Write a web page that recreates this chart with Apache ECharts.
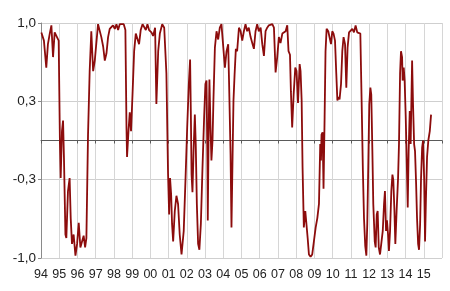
<!DOCTYPE html>
<html>
<head>
<meta charset="utf-8">
<script src="https://cdn.jsdelivr.net/npm/echarts@6/dist/echarts.min.js"></script>
<style>
html,body{margin:0;padding:0;background:#fff;}
#chart{width:450px;height:291px;}
</style>
</head>
<body>
<div id="chart"></div>
<script>
// Time in fractional years
var years = [
1994.02,1994.16,1994.29,1994.38,1994.48,1994.57,1994.66,1994.75,1994.84,1994.97,
1995.04,1995.08,1995.15,1995.21,1995.26,1995.34,1995.39,1995.48,1995.57,1995.63,
1995.70,1995.79,1995.89,1995.98,1996.07,1996.16,1996.25,1996.34,1996.42,1996.49,
1996.58,1996.67,1996.76,1996.86,1996.95,1997.13,1997.31,1997.41,1997.50,1997.59,
1997.68,1997.77,1997.86,1997.95,1998.05,1998.14,1998.23,1998.32,1998.41,1998.54,
1998.63,1998.69,1998.72,1998.80,1998.87,1998.94,1999.02,1999.11,1999.20,1999.29,
1999.38,1999.47,1999.57,1999.66,1999.75,1999.84,1999.93,2000.06,2000.15,2000.26,
2000.33,2000.43,2000.52,2000.65,2000.76,2000.88,2000.97,2001.03,2001.08,2001.14,
2001.19,2001.25,2001.34,2001.43,2001.52,2001.61,2001.71,2001.76,2001.83,2001.93,
2002.02,2002.11,2002.18,2002.22,2002.26,2002.31,2002.37,2002.44,2002.49,2002.55,
2002.62,2002.69,2002.77,2002.86,2002.95,2003.02,2003.08,2003.13,2003.15,2003.19,
2003.24,2003.30,2003.35,2003.41,2003.46,2003.54,2003.63,2003.72,2003.81,2003.90,
2003.99,2004.09,2004.18,2004.27,2004.32,2004.40,2004.45,2004.51,2004.56,2004.62,
2004.69,2004.76,2004.86,2004.95,2005.04,2005.13,2005.22,2005.31,2005.40,2005.50,
2005.59,2005.68,2005.77,2005.86,2005.95,2006.05,2006.14,2006.23,2006.32,2006.41,
2006.50,2006.59,2006.69,2006.78,2006.87,2006.96,2007.05,2007.14,2007.24,2007.33,
2007.42,2007.51,2007.58,2007.66,2007.71,2007.78,2007.86,2007.95,2008.02,2008.10,
2008.19,2008.24,2008.30,2008.35,2008.42,2008.50,2008.57,2008.63,2008.70,2008.79,
2008.88,2008.97,2009.07,2009.16,2009.25,2009.32,2009.36,2009.39,2009.45,2009.50,
2009.56,2009.61,2009.67,2009.76,2009.85,2009.91,2009.98,2010.05,2010.13,2010.20,
2010.26,2010.31,2010.38,2010.46,2010.53,2010.60,2010.68,2010.75,2010.82,2010.90,
2010.99,2011.08,2011.17,2011.26,2011.35,2011.45,2011.52,2011.59,2011.66,2011.72,
2011.79,2011.85,2011.90,2011.96,2012.01,2012.07,2012.12,2012.18,2012.23,2012.31,
2012.36,2012.42,2012.47,2012.53,2012.60,2012.67,2012.75,2012.82,2012.87,2012.93,
2012.98,2013.04,2013.09,2013.15,2013.22,2013.28,2013.33,2013.39,2013.44,2013.51,
2013.59,2013.64,2013.70,2013.75,2013.81,2013.84,2013.90,2013.95,2014.01,2014.06,
2014.12,2014.17,2014.23,2014.28,2014.36,2014.41,2014.47,2014.52,2014.58,2014.63,
2014.69,2014.74,2014.80,2014.85,2014.91,2014.96,2015.02,2015.07,2015.12,2015.18,
2015.25,2015.33,2015.40
];
var values = [
0.92,0.85,0.62,0.82,0.91,0.98,0.71,0.92,0.92,0.85,
-0.03,-0.32,0.08,0.17,-0.15,-0.80,-0.83,-0.43,-0.32,-0.66,
-0.88,-0.80,-0.98,-0.88,-0.70,-0.91,-0.91,-0.81,-0.91,-0.83,
0.05,0.59,0.93,0.59,0.68,0.99,0.88,0.80,0.68,0.74,
0.88,0.95,0.94,0.98,0.95,0.99,0.94,0.99,0.98,0.99,
0.94,0.11,-0.14,0.08,0.24,0.08,0.39,0.76,0.91,0.91,
0.82,0.94,0.99,0.98,0.94,0.99,0.94,0.92,0.89,0.96,
0.31,0.76,0.91,0.99,0.96,0.57,-0.28,-0.63,-0.32,-0.46,
-0.71,-0.86,-0.60,-0.47,-0.54,-0.80,-0.97,-0.98,-0.77,-0.32,
0.11,0.48,0.69,0.25,-0.29,-0.44,-0.09,0.22,-0.03,-0.54,
-0.88,-0.93,-0.71,-0.23,0.20,0.48,0.51,-0.17,-0.68,-0.03,
0.52,0.11,-0.17,0.00,0.34,0.79,0.93,0.86,0.96,0.99,
0.99,0.62,0.76,0.82,0.48,-0.12,-0.74,-0.14,0.34,0.56,
0.78,0.76,0.96,0.93,0.85,0.93,0.99,0.93,0.96,0.88,
0.83,0.78,0.93,0.99,0.93,0.96,0.82,0.72,0.93,0.96,
0.98,0.99,0.99,0.96,0.58,0.71,0.88,0.83,0.91,0.92,
0.93,0.98,0.76,0.73,0.42,0.11,0.39,0.62,0.59,0.32,
0.65,0.59,0.34,-0.23,-0.74,-0.60,-0.60,-0.83,-0.97,-0.99,
-0.97,-0.86,-0.74,-0.66,-0.54,-0.03,-0.17,0.05,0.07,-0.41,
0.20,0.76,0.95,0.93,0.92,0.82,0.93,0.91,0.85,0.57,
0.34,0.37,0.35,0.48,0.76,0.88,0.82,0.45,0.79,0.92,
0.93,0.95,0.92,0.98,0.92,0.92,0.91,0.34,-0.26,-0.66,
-0.90,-0.98,-0.71,-0.17,0.31,0.45,0.39,-0.09,-0.54,-0.86,
-0.91,-0.63,-0.60,-0.91,-0.97,-0.97,-0.77,-0.54,-0.43,-0.77,
-0.68,-0.80,-0.94,-0.77,-0.43,-0.29,-0.34,-0.60,-0.88,-0.60,
-0.32,-0.03,0.57,0.76,0.71,0.51,0.62,0.51,0.20,-0.14,
-0.57,-0.09,0.25,-0.03,0.68,0.31,-0.03,-0.09,-0.37,-0.66,
-0.88,-0.93,-0.71,-0.32,-0.06,0.00,-0.32,-0.86,-0.49,-0.14,
0.00,0.08,0.22
];
var xMin = 1994, xMax = 2016, xStep = 1;
var yMin = -1, yMax = 1, yStep = 2/3;

var data = years.map(function(y, i){ return [y, values[i]]; });
var chart = echarts.init(document.getElementById('chart'), null, {renderer:'canvas'});
var font = 'Liberation Sans, Arial, sans-serif';
chart.setOption({
  animation:false,
  backgroundColor:'#ffffff',
  grid:{left:41, right:8, top:23, bottom:33, containLabel:false},
  xAxis:[{
    type:'value', min:xMin, max:xMax, interval:xStep, position:'bottom',
    axisLine:{show:true, onZero:true, lineStyle:{color:'#5a5a5a', width:1}},
    axisTick:{show:true, length:3, lineStyle:{color:'#5a5a5a'}},
    axisLabel:{show:false},
    splitLine:{show:true, lineStyle:{color:'#d6d6d6', width:1}}
  },{
    type:'value', min:xMin, max:xMax, interval:xStep, position:'bottom',
    axisLine:{show:false, onZero:false},
    axisTick:{show:false},
    splitLine:{show:false},
    axisLabel:{show:true, margin:10, color:'#222', fontSize:12.5, fontFamily:font,
      showMaxLabel:false,
      formatter:function(v){ var n = Math.round(v)%100; return (n<10?'0':'')+n; }}
  }],
  yAxis:{
    type:'value', min:yMin, max:yMax, interval:yStep,
    axisLine:{show:true, lineStyle:{color:'#8a8a8a'}},
    axisTick:{show:true, length:3, lineStyle:{color:'#8a8a8a'}},
    splitLine:{show:true, lineStyle:{color:'#cfcfcf', width:1}},
    axisLabel:{margin:5, color:'#222', fontSize:13.5, fontFamily:font,
      formatter:function(v){ return (Math.round(v*10)/10).toFixed(1).replace('.',','); }}
  },
  series:[{
    type:'line', xAxisIndex:0, data:data, symbol:'none', smooth:false,
    lineStyle:{color:'#8c0c0c', width:1.8},
    z:5
  }]
});
</script>
</body>
</html>
